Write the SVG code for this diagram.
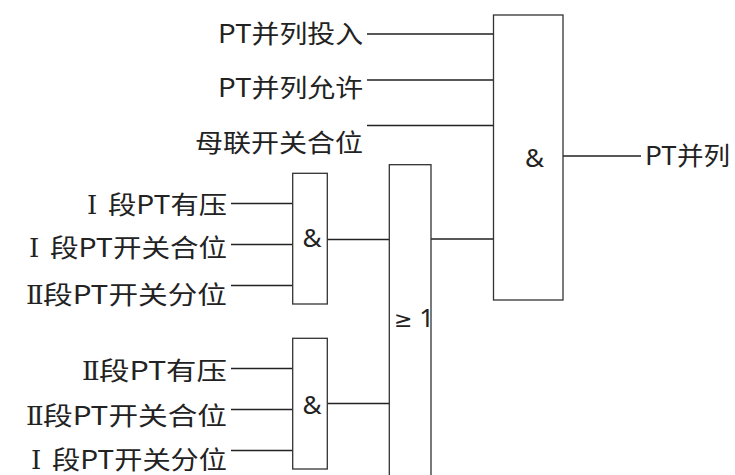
<svg xmlns="http://www.w3.org/2000/svg" width="735" height="475" viewBox="0 0 735 475">
<style>
.box{fill:#fff;stroke:#333;stroke-width:1.3}
.ln{fill:none;stroke:#222;stroke-width:1.3}
.t{font-family:"Noto Sans CJK SC","Noto Sans",sans-serif;font-size:25px;fill:#222}
.rn{font-family:"DejaVu Serif","Liberation Serif",serif;font-size:26px}
.s{font-family:"Noto Sans","Noto Sans CJK SC",sans-serif;font-size:26px;fill:#222}
</style>
<rect width="735" height="475" fill="#fff"/>
<g id="connectors">
<path class="ln" d="M367 34H493.5M367 80H493.5M367 125.5H493.5M431 239H493.5M563 156H641"/>
<path class="ln" d="M231 203.5H292.7M231 244.5H292.7M231 285.5H292.7M327.3 239.5H389.3"/>
<path class="ln" d="M231 368.5H292.7M231 409.5H292.7M231 450.5H292.7M327.3 403.5H389.3"/>
</g>
<g id="and-main">
<rect class="box" x="493.5" y="15" width="69.5" height="285"/>
<text class="s" x="534.5" y="167" text-anchor="middle">&amp;</text>
</g>
<g id="or-gate">
<rect class="box" x="389.3" y="164.7" width="41.7" height="320"/>
<text class="s" x="394" y="327" font-size="24"><tspan font-family="DejaVu Sans" font-size="22">≥</tspan> 1</text>
</g>
<g id="and-1">
<rect class="box" x="292.7" y="173.3" width="34.6" height="130.7"/>
<text class="s" x="312" y="247" text-anchor="middle">&amp;</text>
</g>
<g id="and-2">
<rect class="box" x="292.7" y="338.3" width="34.6" height="130.7"/>
<text class="s" x="312" y="414" text-anchor="middle">&amp;</text>
</g>
<g id="in-1"><text class="t" x="218" y="43" textLength="145" lengthAdjust="spacingAndGlyphs">PT并列投入</text></g>
<g id="in-2"><text class="t" x="218" y="97" textLength="145" lengthAdjust="spacingAndGlyphs">PT并列允许</text></g>
<g id="in-3"><text class="t" x="195" y="152" textLength="168" lengthAdjust="spacingAndGlyphs">母联开关合位</text></g>
<g id="in-4"><text class="t" y="214"><tspan class="rn" x="87">Ⅰ</tspan><tspan x="108" textLength="119" lengthAdjust="spacingAndGlyphs">段PT有压</tspan></text></g>
<g id="in-5"><text class="t" y="257"><tspan class="rn" x="29">Ⅰ</tspan><tspan x="50" textLength="177" lengthAdjust="spacingAndGlyphs">段PT开关合位</tspan></text></g>
<g id="in-6"><text class="t" y="303.5"><tspan class="rn" x="26">Ⅱ</tspan><tspan x="43" textLength="184" lengthAdjust="spacingAndGlyphs">段PT开关分位</tspan></text></g>
<g id="in-7"><text class="t" y="380"><tspan class="rn" x="82">Ⅱ</tspan><tspan x="99" textLength="128" lengthAdjust="spacingAndGlyphs">段PT有压</tspan></text></g>
<g id="in-8"><text class="t" y="425"><tspan class="rn" x="26">Ⅱ</tspan><tspan x="43" textLength="184" lengthAdjust="spacingAndGlyphs">段PT开关合位</tspan></text></g>
<g id="in-9"><text class="t" y="469"><tspan class="rn" x="31">Ⅰ</tspan><tspan x="52" textLength="175" lengthAdjust="spacingAndGlyphs">段PT开关分位</tspan></text></g>
<g id="out"><text class="t" x="645" y="165" textLength="85" lengthAdjust="spacingAndGlyphs">PT并列</text></g>
</svg>
